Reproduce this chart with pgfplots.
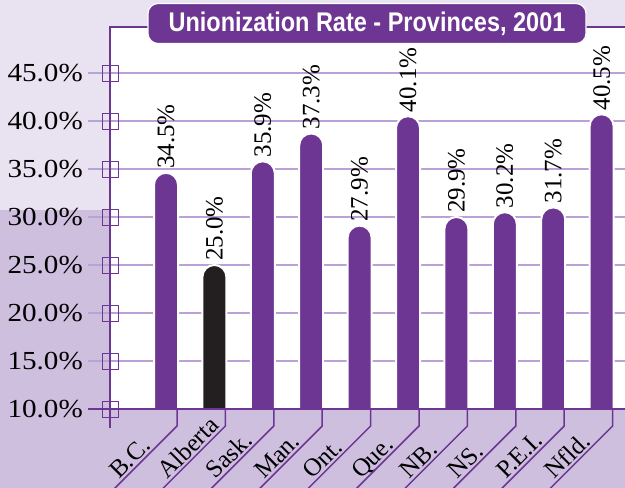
\documentclass[border=0pt]{standalone}
\usepackage{fontspec}
\setmainfont{Liberation Serif}
\newfontfamily\titlefont[FakeStretch=0.87]{Liberation Sans}
\newfontfamily\tickfont[FakeStretch=1.12]{Liberation Serif}
\usepackage{pgfplots}
\pgfplotsset{compat=1.18}

\definecolor{barpurple}{RGB}{108,54,146}
\definecolor{barblack}{RGB}{35,31,32}
\definecolor{gridpurple}{RGB}{186,162,214}
\definecolor{bglight}{RGB}{233,226,240}
\definecolor{bgdark}{RGB}{206,191,223}

\begin{document}
\begin{tikzpicture}[x=1pt,y=1pt]
\useasboundingbox (0,0) rectangle (625,488);
\fill[bglight] (0,0) rectangle (625,488);
\fill[bgdark] (0,0) rectangle (110,278);
\fill[bgdark] (0,0) rectangle (625,79);
\fill[white] (110,79) rectangle (625,461);
\begin{axis}[
    at={(110pt,65.56pt)}, anchor=south west,
    width=515pt, height=395.44pt, scale only axis,
    xmin=-1.157, xmax=9.483, ymin=8.6, ymax=49.79,
    axis line style={draw=none},
    bar width=24pt,
    ymajorgrids, grid style={gridpurple, line width=1.5pt},
    ytick={10,15,...,45}, ytick pos=left,
    tick align=outside, major tick length=22pt,
    ytick style={gridpurple, line width=1.5pt},
    xtick={0,...,9}, xtick style={draw=none},
    xticklabels={B.C.,Alberta,Sask.,Man.,Ont.,Que.,NB.,NS.,P.E.I.,Nfld.},
    yticklabel={\pgfmathprintnumber[fixed,fixed zerofill,precision=1]{\tick}\%},
    /pgf/number format/assume math mode=true,
    yticklabel style={font=\fontsize{26}{30}\tickfont, inner sep=0pt, xshift=-5pt},
    xticklabel style={font=\fontsize{25}{30}\selectfont, xshift=-47pt, yshift=-35.5pt, rotate=45, anchor=base west, inner sep=0pt},
    every node near coord/.append style={rotate=90, anchor=west, font=\fontsize{25}{30}\selectfont, black, inner sep=3pt},
]
% tick squares on the y axis
\addplot[only marks, mark=square, mark size=8pt, barpurple, line width=0.9pt]
    coordinates {(-1.156,10) (-1.156,15) (-1.156,20) (-1.156,25)
                 (-1.156,30) (-1.156,35) (-1.156,40) (-1.156,45)};
% hide the rounded bottoms of the bars below 10%
\clip (axis cs:-1.157,10) rectangle (axis cs:9.483,49.79);
% bar heights as drawn, labels as printed
\addplot[ybar, bar shift=0pt, fill=barpurple, draw=white, line width=2pt, rounded corners=12pt,
    nodes near coords, point meta=explicit symbolic]
    coordinates {(0,34.6)[34.5\%] (2,35.8)[35.9\%] (3,38.7)[37.3\%] (4,29.1)[27.9\%]
                 (5,40.5)[40.1\%] (6,30.0)[29.9\%] (7,30.5)[30.2\%] (8,31.0)[31.7\%]
                 (9,40.7)[40.5\%]};
\addplot[ybar, bar shift=0pt, fill=barblack, draw=white, line width=2pt, rounded corners=12pt,
    nodes near coords, point meta=explicit symbolic]
    coordinates {(1,25.0)[25.0\%]};
\end{axis}
\draw[barpurple, line width=2pt] (110,60) -- (110,461) -- (625,461);
\draw[barpurple, line width=2pt] (88,79) -- (625,79);
\foreach \i in {0,...,9}
    \draw[barpurple, line width=1.5pt] ({177+48.4*\i},79) -- ++(0,-17) -- ++(-64,-64);
\node[fill=barpurple, draw=white, line width=1.2pt, rounded corners=10pt,
      minimum width=438pt, minimum height=40pt, inner sep=0pt, text=white,
      font=\fontsize{27}{30}\titlefont\bfseries] at (367,464.5)
      {Unionization Rate - Provinces, 2001};
\end{tikzpicture}
\end{document}
